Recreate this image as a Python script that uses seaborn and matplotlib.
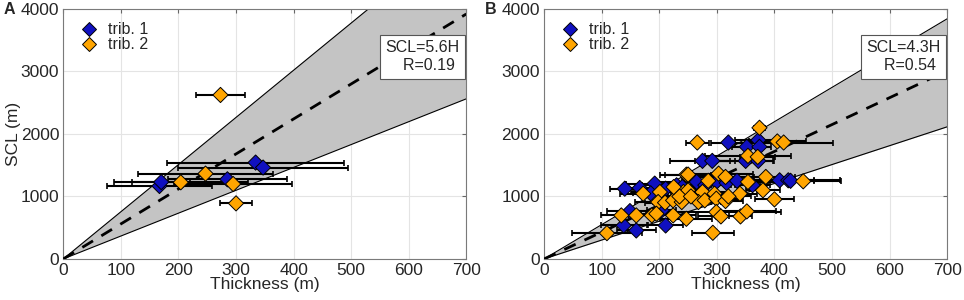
import numpy as np
import pandas as pd
import matplotlib
matplotlib.use("Agg")
import matplotlib.pyplot as plt
from matplotlib.lines import Line2D
import seaborn as sns

# panel A: thickness (m), SCL (m), thickness error (m)
a1_x = [167, 170, 334, 347, 285]
a1_y = [1167, 1230, 1542, 1462, 1274]
a1_err = [92, 50, 154, 148, 104]
a2_x = [273, 247, 204, 295, 300]
a2_y = [2624, 1365, 1226, 1199, 889]
a2_err = [42, 117, 116, 103, 28]

# panel B
b1_x = [320, 372, 352, 374, 275, 292, 350, 372, 140, 166, 192, 211, 230, 265, 299, 317,
        409, 424, 428, 138, 160, 211, 149, 204, 185, 240, 280, 335, 362]
b1_y = [1863, 1901, 1794, 1794, 1569, 1569, 1569, 1569, 1124, 1135, 1205, 1124, 1178, 1232,
        1232, 1215, 1258, 1258, 1250, 535, 455, 535, 765, 776, 1050, 1150, 1180, 1250, 1180]
b1_err = [30, 40, 25, 20, 57, 30, 50, 25, 25, 30, 50, 40, 60, 70, 50, 40,
          60, 90, 40, 40, 34, 30, 40, 25, 30, 35, 45, 40, 30]
b2_x = [266, 405, 416, 374, 354, 371, 247, 303, 315, 385, 354, 450, 172, 201, 242, 250,
        275, 296, 340, 380, 198, 210, 224, 239, 268, 279, 299, 315, 400, 134, 160, 187,
        195, 224, 247, 299, 307, 341, 352, 109, 293, 250, 235, 255, 285, 225, 320]
b2_y = [1863, 1880, 1863, 2099, 1649, 1633, 1349, 1365, 1312, 1312, 1232, 1242, 1044, 1071,
        1071, 1098, 1071, 1044, 1044, 1098, 910, 900, 937, 910, 910, 937, 964, 926, 953,
        696, 696, 696, 723, 696, 642, 750, 680, 680, 760, 412, 418, 1350, 1000, 1000, 1250,
        1150, 1000]
b2_err = [20, 50, 85, 10, 75, 30, 46, 60, 50, 50, 70, 65, 40, 50, 30, 35,
          45, 40, 30, 30, 40, 35, 30, 50, 40, 35, 45, 30, 34, 35, 30, 40,
          30, 40, 45, 112, 40, 20, 50, 61, 37, 40, 30, 35, 45, 30, 40]

panels = [
    dict(tag="A", x1=a1_x, y1=a1_y, e1=a1_err, x2=a2_x, y2=a2_y, e2=a2_err,
         slope=5.6, lo=3.66, hi=7.55, text="SCL=5.6H\nR=0.19 "),
    dict(tag="B", x1=b1_x, y1=b1_y, e1=b1_err, x2=b2_x, y2=b2_y, e2=b2_err,
         slope=4.3, lo=3.02, hi=5.49, text="SCL=4.3H\nR=0.54 "),
]

blue = "#1010c0"
orange = "#ffa500"
fs = 12.5

sns.set_style("white")
plt.rcParams["font.family"] = ["Liberation Sans", "DejaVu Sans"]

fig = plt.figure(figsize=(9.64, 3.0), dpi=100)
lefts = [0.0657, 0.5645]

for i, p in enumerate(panels):
    ax = fig.add_axes([lefts[i], 0.137, 0.418, 0.833])
    df = pd.concat([
        pd.DataFrame({"Thickness": p["x1"], "SCL": p["y1"], "err": p["e1"], "trib": "trib. 1"}),
        pd.DataFrame({"Thickness": p["x2"], "SCL": p["y2"], "err": p["e2"], "trib": "trib. 2"}),
    ], ignore_index=True)

    xs = np.array([0, 700])
    ax.fill_between(xs, p["lo"] * xs, p["hi"] * xs, color="#c4c4c4", zorder=1, lw=0)
    ax.plot(xs, p["lo"] * xs, color="black", lw=0.8, zorder=2)
    ax.plot(xs, p["hi"] * xs, color="black", lw=0.8, zorder=2)
    ax.plot(xs, p["slope"] * xs, color="black", lw=2, ls=(0, (4.5, 3.5)), zorder=3)

    ax.errorbar(df["Thickness"], df["SCL"], xerr=df["err"], fmt="none", ecolor="black",
                elinewidth=1.5, capsize=2.5, capthick=1.2, zorder=4)
    sns.scatterplot(data=df, x="Thickness", y="SCL", hue="trib", palette=[blue, orange],
                    marker="D", s=60, edgecolor="black", linewidth=0.7, legend=False,
                    ax=ax, zorder=5)

    ax.set_xlim(0, 700)
    ax.set_ylim(0, 4000)
    ax.set_xticks(range(0, 701, 100))
    ax.set_yticks(range(0, 4001, 1000))
    ax.grid(True, color="#e4e4e4", lw=0.8)
    ax.set_axisbelow(True)
    ax.tick_params(direction="in", labelsize=fs, length=3, color="#666666", pad=3,
                   top=True, right=True)
    for s in ax.spines.values():
        s.set_color("#7a7a7a")
        s.set_linewidth(0.8)
    ax.set_xlabel("Thickness (m)", fontsize=fs, labelpad=-1)
    if i == 0:
        ax.set_ylabel("SCL (m)", fontsize=fs, labelpad=0)
    else:
        ax.set_ylabel("")

    handles = [
        Line2D([], [], marker="D", ls="none", markerfacecolor=blue, markeredgecolor="black",
               markersize=7, markeredgewidth=0.7),
        Line2D([], [], marker="D", ls="none", markerfacecolor=orange, markeredgecolor="black",
               markersize=7, markeredgewidth=0.7),
    ]
    ax.legend(handles, ["trib. 1", "trib. 2"], loc="upper left", frameon=False,
              fontsize=11.5, handletextpad=0.2, borderaxespad=0.2, labelspacing=0.0,
              bbox_to_anchor=(0.0, 0.985))

    ax.text(0.8, 0.875, p["text"], transform=ax.transAxes, fontsize=11.5, va="top",
            ha="left", multialignment="right", linespacing=1.25, zorder=10,
            bbox=dict(boxstyle="square,pad=0.35", fc="white", ec="#555555", lw=0.8))

    fig.text(lefts[i] - 0.062, 0.955, p["tag"], fontsize=11.5, fontweight="bold")

fig.savefig("out.png", dpi=100)
